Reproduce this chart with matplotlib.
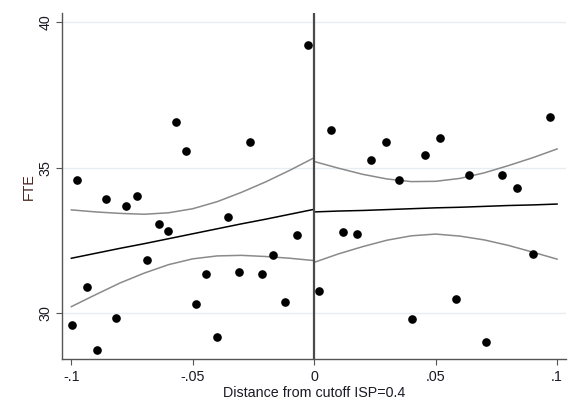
import matplotlib.pyplot as plt

plt.rcParams['font.family'] = ['Liberation Sans', 'DejaVu Sans']

# binned means, left of the cutoff
dist_left = [-0.0997, -0.0975, -0.0934, -0.0893, -0.0858, -0.0817, -0.0776, -0.0731,
             -0.0687, -0.0640, -0.0603, -0.0568, -0.0529, -0.0488, -0.0444, -0.0400,
             -0.0356, -0.0309, -0.0264, -0.0216, -0.0171, -0.0119, -0.0072, -0.0026]
fte_left = [29.59, 34.57, 30.90, 28.73, 33.92, 29.84, 33.69, 34.03,
            31.82, 33.07, 32.84, 36.57, 35.57, 30.32, 31.35, 29.18,
            33.32, 31.41, 35.88, 31.35, 31.99, 30.38, 32.70, 39.21]

# binned means, right of the cutoff
dist_right = [0.0021, 0.0070, 0.0117, 0.0175, 0.0233, 0.0295, 0.0348, 0.0401, 0.0456,
              0.0519, 0.0585, 0.0638, 0.0706, 0.0773, 0.0834, 0.0900, 0.0972]
fte_right = [30.76, 36.30, 32.80, 32.73, 35.26, 35.89, 34.57, 29.80, 35.44,
             36.02, 30.49, 34.74, 29.03, 34.74, 34.31, 32.03, 36.75]

# linear fit with 95% CI on each side
grid_left = [-0.10, -0.09, -0.08, -0.07, -0.06, -0.05, -0.04, -0.03, -0.02, -0.01, 0.0]
fit_left = [31.89, 32.06, 32.23, 32.39, 32.56, 32.73, 32.90, 33.07, 33.23, 33.40, 33.57]
ci_hi_left = [33.55, 33.48, 33.43, 33.40, 33.45, 33.59, 33.83, 34.15, 34.51, 34.91, 35.34]
ci_lo_left = [30.23, 30.64, 31.04, 31.38, 31.67, 31.87, 31.97, 31.99, 31.95, 31.89, 31.81]

grid_right = [0.0, 0.01, 0.02, 0.03, 0.04, 0.05, 0.06, 0.07, 0.08, 0.09, 0.10]
fit_right = [33.48, 33.51, 33.53, 33.56, 33.59, 33.62, 33.64, 33.67, 33.70, 33.72, 33.75]
ci_hi_right = [35.21, 34.98, 34.77, 34.61, 34.52, 34.53, 34.63, 34.82, 35.07, 35.34, 35.64]
ci_lo_right = [31.75, 32.04, 32.29, 32.51, 32.66, 32.72, 32.65, 32.52, 32.33, 32.10, 31.86]

x_ticks = [-0.1, -0.05, 0, 0.05, 0.1]
x_ticklabels = ['-.1', '-.05', '0', '.05', '.1']
y_ticks = [30, 35, 40]

fig = plt.figure(figsize=(5.72, 4.15), dpi=100)
ax = fig.add_axes([0.109, 0.134, 0.881, 0.835])

for y in y_ticks:
    ax.axhline(y, color='#e6eef1', lw=1.0, zorder=0)

ax.scatter(dist_left, fte_left, s=27, color='black', zorder=3)
ax.scatter(dist_right, fte_right, s=27, color='black', zorder=3)

ax.plot(grid_left, ci_hi_left, color='#8a8a8a', lw=1.1)
ax.plot(grid_left, ci_lo_left, color='#8a8a8a', lw=1.1)
ax.plot(grid_left, fit_left, color='black', lw=1.1)
ax.plot(grid_right, ci_hi_right, color='#8a8a8a', lw=1.1)
ax.plot(grid_right, ci_lo_right, color='#8a8a8a', lw=1.1)
ax.plot(grid_right, fit_right, color='black', lw=1.1)

ax.axvline(0, color='#4a4a4a', lw=1.6, zorder=2)

ax.set_xlim(-0.1037, 0.1038)
ax.set_ylim(28.42, 40.31)
ax.set_xticks(x_ticks)
ax.set_xticklabels(x_ticklabels)
ax.set_yticks(y_ticks)
ax.set_yticklabels([str(v) for v in y_ticks], rotation=90, va='center')

ax.spines['top'].set_visible(False)
ax.spines['right'].set_visible(False)
for side in ['left', 'bottom']:
    ax.spines[side].set_color('#555555')
    ax.spines[side].set_linewidth(1.0)

ax.tick_params(axis='both', length=4.3, width=0.8, color='#555555',
               labelsize=10.3, labelcolor='#1a1a24', pad=3)
ax.set_xlabel('Distance from cutoff ISP=0.4', fontsize=10.3, color='#1a1a24', labelpad=2)
ax.set_ylabel('FTE', fontsize=10.3, color='#4a2420', labelpad=1.5)

fig.savefig('out.png', dpi=100)
